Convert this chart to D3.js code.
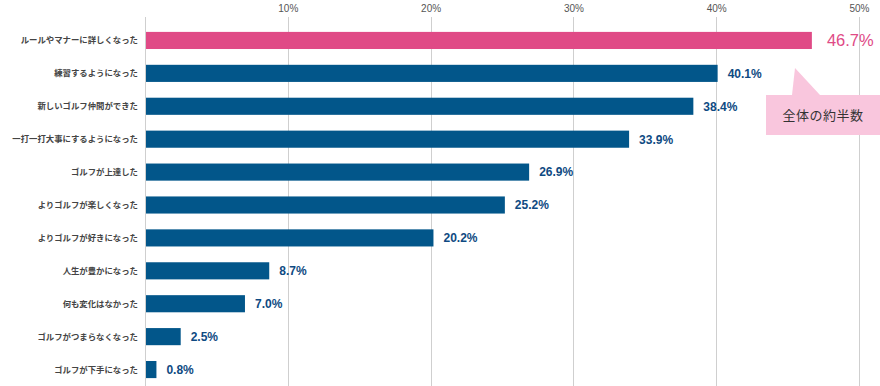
<!DOCTYPE html>
<html>
<head>
<meta charset="utf-8">
<script src="https://cdnjs.cloudflare.com/ajax/libs/d3/7.8.5/d3.min.js"></script>
<style>
  body { margin: 0; background: #fff; }
  svg { display: block; font-family: "Noto Sans CJK JP", "Noto Sans", sans-serif; }
</style>
</head>
<body>
<svg id="chart" width="880" height="386"></svg>
<script>
var categories = [
  "ルールやマナーに詳しくなった",
  "練習するようになった",
  "新しいゴルフ仲間ができた",
  "一打一打大事にするようになった",
  "ゴルフが上達した",
  "よりゴルフが楽しくなった",
  "よりゴルフが好きになった",
  "人生が豊かになった",
  "何も変化はなかった",
  "ゴルフがつまらなくなった",
  "ゴルフが下手になった"
];
var values = [46.7, 40.1, 38.4, 33.9, 26.9, 25.2, 20.2, 8.7, 7.0, 2.5, 0.8];
var ticks = [10, 20, 30, 40, 50];
var calloutText = "全体の約半数";

var svg = d3.select("#chart");
var numFont = "'Liberation Sans', Arial, sans-serif";

var x = d3.scaleLinear().domain([0, 50]).range([145, 859]);
var y = d3.scaleBand().domain(categories).range([24, 386]).paddingInner(0.48).paddingOuter(0.24);

// grid
svg.append("g")
  .selectAll("line")
  .data([0].concat(ticks))
  .enter().append("line")
  .attr("x1", function(d){ return Math.round(x(d)) + 0.5; })
  .attr("x2", function(d){ return Math.round(x(d)) + 0.5; })
  .attr("y1", 17).attr("y2", 386)
  .attr("stroke", "#cfcfcf").attr("stroke-width", 1);

// top tick labels
var xAxis = d3.axisTop(x).tickValues(ticks).tickSize(0).tickFormat(function(d){ return d + "%"; });
var ax = svg.append("g").attr("transform", "translate(0,11)").call(xAxis);
ax.select(".domain").remove();
ax.selectAll("text").attr("fill", "#555").attr("font-size", 10).attr("dy", "0.35em")
  .attr("font-family", numFont);

// callout, covers the grid
var cx0 = 766, cy0 = 95, cw = 114, ch = 40;
svg.append("path")
  .attr("d", "M" + (cx0 + 26) + "," + cy0 + " L795,68 L" + (cx0 + 54) + "," + cy0 + " Z")
  .attr("fill", "#f9c6dd");
svg.append("rect")
  .attr("x", cx0).attr("y", cy0).attr("width", cw).attr("height", ch)
  .attr("fill", "#f9c6dd");
svg.append("text")
  .attr("x", cx0 + 57).attr("y", cy0 + ch / 2)
  .attr("dy", "0.36em").attr("text-anchor", "middle")
  .attr("font-size", 13).attr("fill", "#333")
  .attr("letter-spacing", "0.5px")
  .text(calloutText);

// bars
svg.append("g")
  .selectAll("rect")
  .data(values)
  .enter().append("rect")
  .attr("x", x(0) + 1)
  .attr("y", function(d, i){ return y(categories[i]); })
  .attr("width", function(d){ return x(d) - x(0) - 1; })
  .attr("height", y.bandwidth())
  .attr("fill", function(d, i){ return i === 0 ? "#e04a86" : "#02568a"; });

// category labels
svg.append("g")
  .selectAll("text")
  .data(categories)
  .enter().append("text")
  .attr("x", 138)
  .attr("y", function(d){ return y(d) + y.bandwidth() / 2; })
  .attr("dy", "0.36em")
  .attr("text-anchor", "end")
  .attr("font-size", 8.4)
  .attr("font-weight", "bold")
  .attr("fill", "#444")
  .text(function(d){ return d; });

// value labels
svg.append("g")
  .selectAll("text")
  .data(values)
  .enter().append("text")
  .attr("x", function(d, i){ return x(d) + (i === 0 ? 15 : 10); })
  .attr("y", function(d, i){ return y(categories[i]) + y.bandwidth() / 2; })
  .attr("dy", "0.36em")
  .attr("font-family", numFont)
  .attr("font-size", function(d, i){ return i === 0 ? 16.5 : 12; })
  .attr("font-weight", function(d, i){ return i === 0 ? "normal" : "bold"; })
  .attr("fill", function(d, i){ return i === 0 ? "#e04a86" : "#0e4a82"; })
  .text(function(d){ return d.toFixed(1) + "%"; });
</script>
</body>
</html>
